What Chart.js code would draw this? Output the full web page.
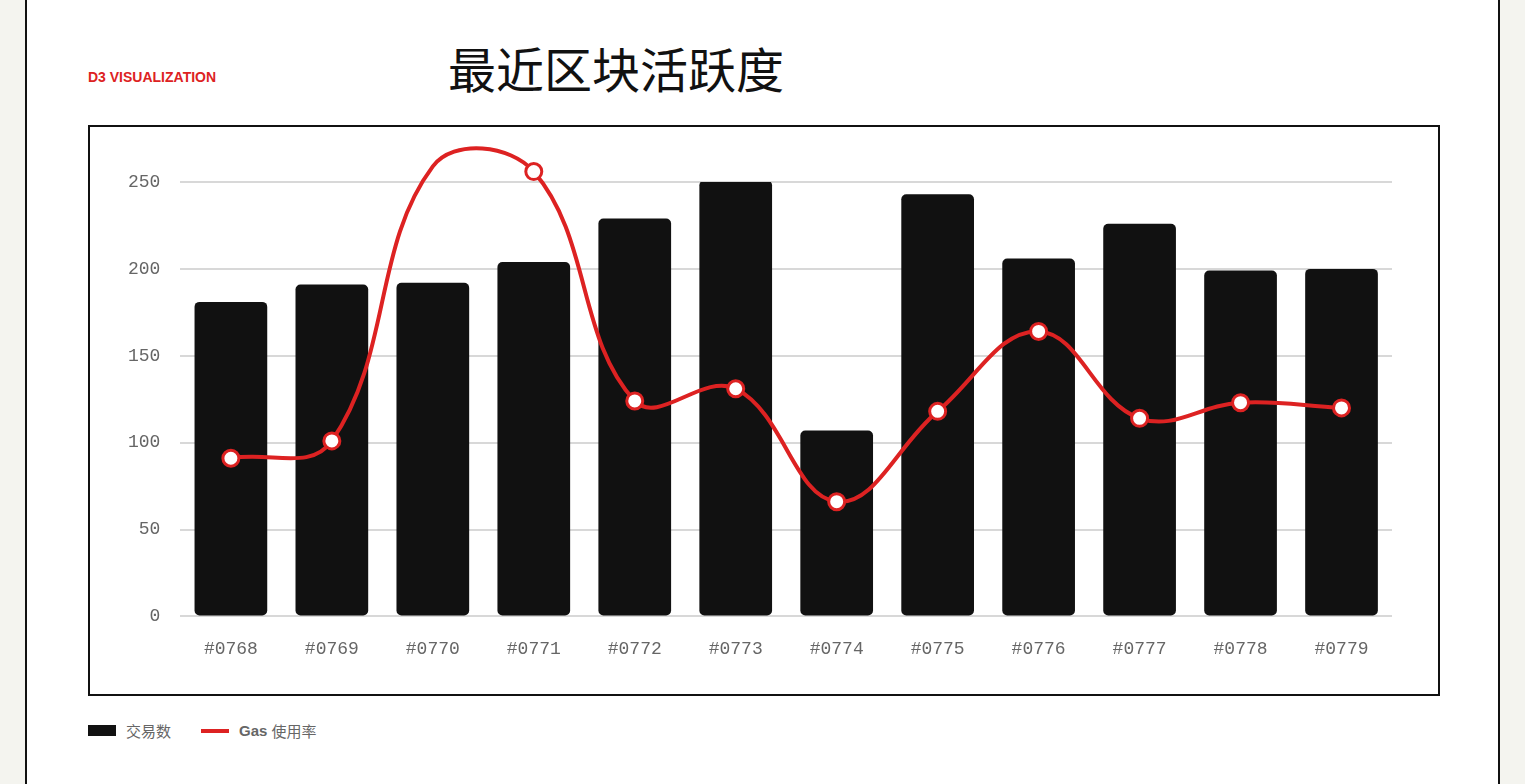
<!DOCTYPE html>
<html><head><meta charset="utf-8">
<script src="https://cdn.jsdelivr.net/npm/chart.js@4"></script>
<style>
body{margin:0;background:#f4f4ef;width:1525px;height:784px;overflow:hidden;font-family:"Liberation Sans","Noto Sans CJK SC",sans-serif}
.card{position:absolute;left:25px;top:-2px;width:1471px;height:800px;background:#fff;border-left:2px solid #111;border-right:2px solid #111}
.tag{position:absolute;left:61px;top:71px;color:#dd2222;font-weight:bold;font-size:14px}
.title{position:absolute;left:421px;top:34px;font-size:48px;color:#111;font-family:"Noto Sans CJK SC",sans-serif}
.box{position:absolute;left:61px;top:127px;width:1348px;height:567px;border:2px solid #111}
.legend{position:absolute;left:61px;top:722px;font-size:15px;color:#666;display:flex;align-items:center}
.sw{display:inline-block;width:28px;height:11px;background:#111;margin-right:10px}
.ln{display:inline-block;width:28px;height:4px;background:#dd2222;margin:0 10px 0 30px}
</style></head><body>
<div class="card">
<div class="tag">D3 VISUALIZATION</div>
<div class="title">最近区块活跃度</div>
<div class="box"><canvas id="c" width="1348" height="567"></canvas></div>
<div class="legend"><span class="sw"></span>交易数<span class="ln"></span><b>Gas</b>&nbsp;使用率</div>
</div>
<script>
const blocks = ['#0768','#0769','#0770','#0771','#0772','#0773','#0774','#0775','#0776','#0777','#0778','#0779'];
const txCount = [181, 191, 192, 204, 229, 251, 107, 243, 206, 226, 199, 200];
const gasUsage = [91, 101, 259, 256, 124, 131, 66, 118, 164, 114, 123, 120];

new Chart(document.getElementById('c').getContext('2d'), {
  data: {
    labels: blocks,
    datasets: [{
      type: 'line', label: 'Gas 使用率', data: gasUsage,
      borderColor: '#dd2222', borderWidth: 4, tension: 0.4, clip: false,
      pointRadius: 8, pointBackgroundColor: '#fff', pointBorderColor: '#dd2222', pointBorderWidth: 3
    }, {
      type: 'bar', label: '交易数', data: txCount,
      backgroundColor: '#111', borderRadius: 5, borderSkipped: false, barPercentage: 0.72, categoryPercentage: 1
    }]
  },
  options: {
    responsive: false, animation: false,
    layout: { padding: { left: 18, top: 55, right: 46, bottom: 20 } },
    plugins: { legend: { display: false }, tooltip: { enabled: false } },
    scales: {
      x: { grid: { display: false }, border: { display: false },
           ticks: { color: '#666', font: { family: 'Liberation Mono', size: 18 }, padding: 14 } },
      y: { min: 0, max: 250, grid: { color: '#d8d8d8', lineWidth: 2, drawTicks: false }, border: { display: false },
           ticks: { stepSize: 50, color: '#666', font: { family: 'Liberation Mono', size: 18 }, padding: 20 } }
    }
  }
});
</script>
</body></html>
